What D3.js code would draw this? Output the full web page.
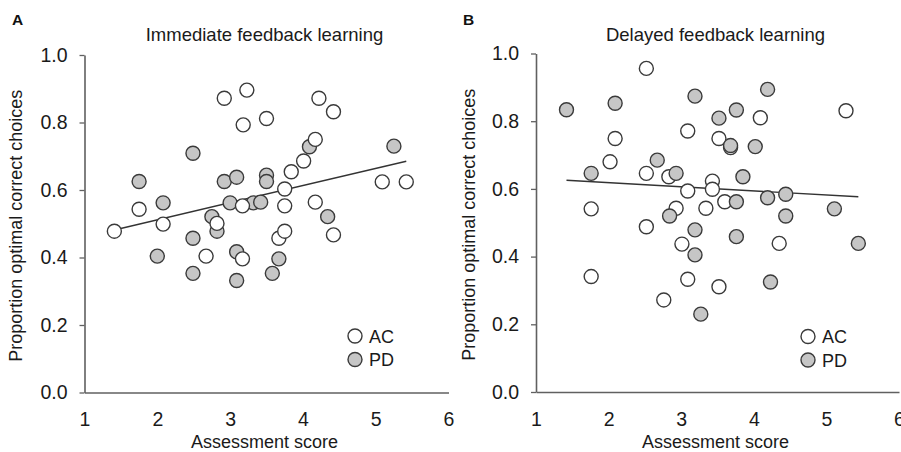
<!DOCTYPE html>
<html>
<head>
<meta charset="utf-8">
<script src="https://cdn.jsdelivr.net/npm/d3@7/dist/d3.min.js"></script>
<style>
  html, body { margin: 0; padding: 0; background: #fff; }
  svg { display: block; font-family: "Liberation Sans", Arial, Helvetica, sans-serif; }
</style>
</head>
<body>
<svg id="chart" width="901" height="452"></svg>
<script>
// ---------- data ----------
const xTicks = [1, 2, 3, 4, 5, 6];
const yTicks = [0, 0.2, 0.4, 0.6, 0.8, 1.0];
const groups = ["AC", "PD"];

// Panel A: Immediate feedback learning  [assessment score, proportion]
const immediateAC = [
  [1.41, 0.478], [1.75, 0.543], [2.08, 0.499], [2.67, 0.404], [2.82, 0.501],
  [2.92, 0.872], [3.17, 0.553], [3.17, 0.396], [3.18, 0.793], [3.23, 0.896],
  [3.50, 0.812], [3.67, 0.457], [3.75, 0.603], [3.75, 0.553], [3.75, 0.478],
  [3.84, 0.654], [4.01, 0.686], [4.17, 0.750], [4.17, 0.564], [4.22, 0.872],
  [4.42, 0.832], [4.42, 0.467], [5.09, 0.624], [5.42, 0.624]
];
const immediatePD = [
  [1.75, 0.625], [2.00, 0.404], [2.08, 0.562], [2.49, 0.709], [2.49, 0.457],
  [2.49, 0.353], [2.75, 0.521], [2.82, 0.478], [2.92, 0.625], [3.00, 0.562],
  [3.09, 0.638], [3.09, 0.417], [3.09, 0.332], [3.32, 0.562], [3.42, 0.564],
  [3.50, 0.644], [3.50, 0.625], [3.58, 0.353], [3.67, 0.396], [4.09, 0.728],
  [4.34, 0.521], [5.25, 0.730]
];
const immediateFit = { intercept: 0.410, slope: 0.0508 };

// Panel B: Delayed feedback learning
const delayedAC = [
  [1.76, 0.541], [1.76, 0.341], [2.02, 0.680], [2.09, 0.749], [2.52, 0.956],
  [2.52, 0.646], [2.52, 0.488], [2.76, 0.272], [2.83, 0.636], [2.93, 0.543],
  [3.01, 0.437], [3.09, 0.771], [3.09, 0.594], [3.09, 0.333], [3.34, 0.543],
  [3.43, 0.623], [3.43, 0.599], [3.52, 0.749], [3.52, 0.311], [3.60, 0.562],
  [3.68, 0.722], [4.09, 0.810], [4.35, 0.439], [5.27, 0.831]
];
const delayedPD = [
  [1.42, 0.834], [1.76, 0.646], [2.09, 0.853], [2.67, 0.685], [2.84, 0.520],
  [2.93, 0.646], [3.19, 0.874], [3.19, 0.479], [3.19, 0.405], [3.27, 0.230],
  [3.52, 0.809], [3.68, 0.728], [3.76, 0.833], [3.76, 0.562], [3.76, 0.459],
  [3.85, 0.636], [4.02, 0.725], [4.19, 0.894], [4.19, 0.574], [4.23, 0.325],
  [4.44, 0.584], [4.44, 0.520], [5.11, 0.541], [5.44, 0.439]
];
const delayedFit = { intercept: 0.643, slope: -0.0122 };

// ---------- drawing ----------
const svg = d3.select("#chart");
const fills = { AC: "#ffffff", PD: "#c6c6c6" };
const strokeC = "#3a3a3a";
const axisC = "#606060";

const panels = [
  { letter: "A", title: "Immediate feedback learning", ac: immediateAC, pd: immediatePD, fit: immediateFit,
    x0: 84.5, x1: 448.5, y0: 392.5, y1: 55, order: ["PD", "AC"], legendX: 355, legendY: 336,
    letterX: 12, ylabX: 22 },
  { letter: "B", title: "Delayed feedback learning", ac: delayedAC, pd: delayedPD, fit: delayedFit,
    x0: 536, x1: 899, y0: 392, y1: 53.5, order: ["AC", "PD"], legendX: 808, legendY: 336.5,
    letterX: 463, ylabX: 474.5 }
];

panels.forEach(p => {
  const g = svg.append("g");
  const x = d3.scaleLinear().domain([1, 6]).range([p.x0, p.x1]);
  const y = d3.scaleLinear().domain([0, 1]).range([p.y0, p.y1]);

  // y axis
  const ya = g.append("g").attr("transform", `translate(${p.x0},0)`)
    .call(d3.axisLeft(y).tickValues(yTicks).tickFormat(d3.format(".1f"))
      .tickSize(5).tickSizeOuter(0).tickPadding(12));
  ya.select(".domain").attr("stroke", axisC).attr("stroke-width", 1.6);
  ya.selectAll(".tick line").attr("stroke", axisC).attr("stroke-width", 1.3);
  ya.selectAll(".tick text").attr("font-size", 19.5).attr("fill", "#1a1a1a")
    .attr("font-family", "Liberation Sans, Arial, sans-serif");

  // x axis
  const xa = g.append("g").attr("transform", `translate(0,${p.y0})`)
    .call(d3.axisBottom(x).tickValues(xTicks).tickFormat(d3.format("d"))
      .tickSize(0).tickSizeOuter(0).tickPadding(20));
  xa.select(".domain").attr("stroke", axisC).attr("stroke-width", 1.6);
  xa.selectAll(".tick text").attr("font-size", 19.5).attr("fill", "#1a1a1a")
    .attr("font-family", "Liberation Sans, Arial, sans-serif");

  // regression line across data range
  const allX = p.ac.concat(p.pd).map(d => d[0]);
  const ext = d3.extent(allX);
  const line = d3.line().x(d => x(d)).y(d => y(p.fit.intercept + p.fit.slope * d));
  g.append("path").datum(ext).attr("d", line)
    .attr("fill", "none").attr("stroke", "#333").attr("stroke-width", 1.4);

  // points
  const data = { AC: p.ac, PD: p.pd };
  p.order.forEach(k => {
    g.append("g").selectAll("circle").data(data[k]).join("circle")
      .attr("cx", d => x(d[0])).attr("cy", d => y(d[1])).attr("r", 7)
      .attr("fill", fills[k]).attr("stroke", strokeC).attr("stroke-width", 1.4);
  });

  // legend
  groups.forEach((k, i) => {
    const ly = p.legendY + i * 23.5;
    g.append("circle").attr("cx", p.legendX).attr("cy", ly).attr("r", 7)
      .attr("fill", fills[k]).attr("stroke", strokeC).attr("stroke-width", 1.4);
    g.append("text").attr("x", p.legendX + 14).attr("y", ly + 6.5)
      .attr("font-size", 18).attr("fill", "#1a1a1a").text(k);
  });

  // title
  const cx = (x(1) + x(6)) / 2 - 2;
  g.append("text").attr("x", cx).attr("y", 41).attr("text-anchor", "middle")
    .attr("font-size", 18.5).attr("fill", "#1a1a1a").text(p.title);
  // panel letter
  g.append("text").attr("x", p.letterX).attr("y", 25).attr("font-size", 15.5)
    .attr("font-weight", "bold").attr("fill", "#111").text(p.letter);
  // x label
  g.append("text").attr("x", cx).attr("y", 447.5).attr("text-anchor", "middle")
    .attr("font-size", 18).attr("fill", "#1a1a1a").text("Assessment score");
  // y label
  g.append("text").attr("transform", `translate(${p.ylabX},${(p.y0 + p.y1) / 2 + 2}) rotate(-90)`)
    .attr("text-anchor", "middle").attr("font-size", 18).attr("fill", "#1a1a1a")
    .text("Proportion optimal correct choices");
});
</script>
</body>
</html>
